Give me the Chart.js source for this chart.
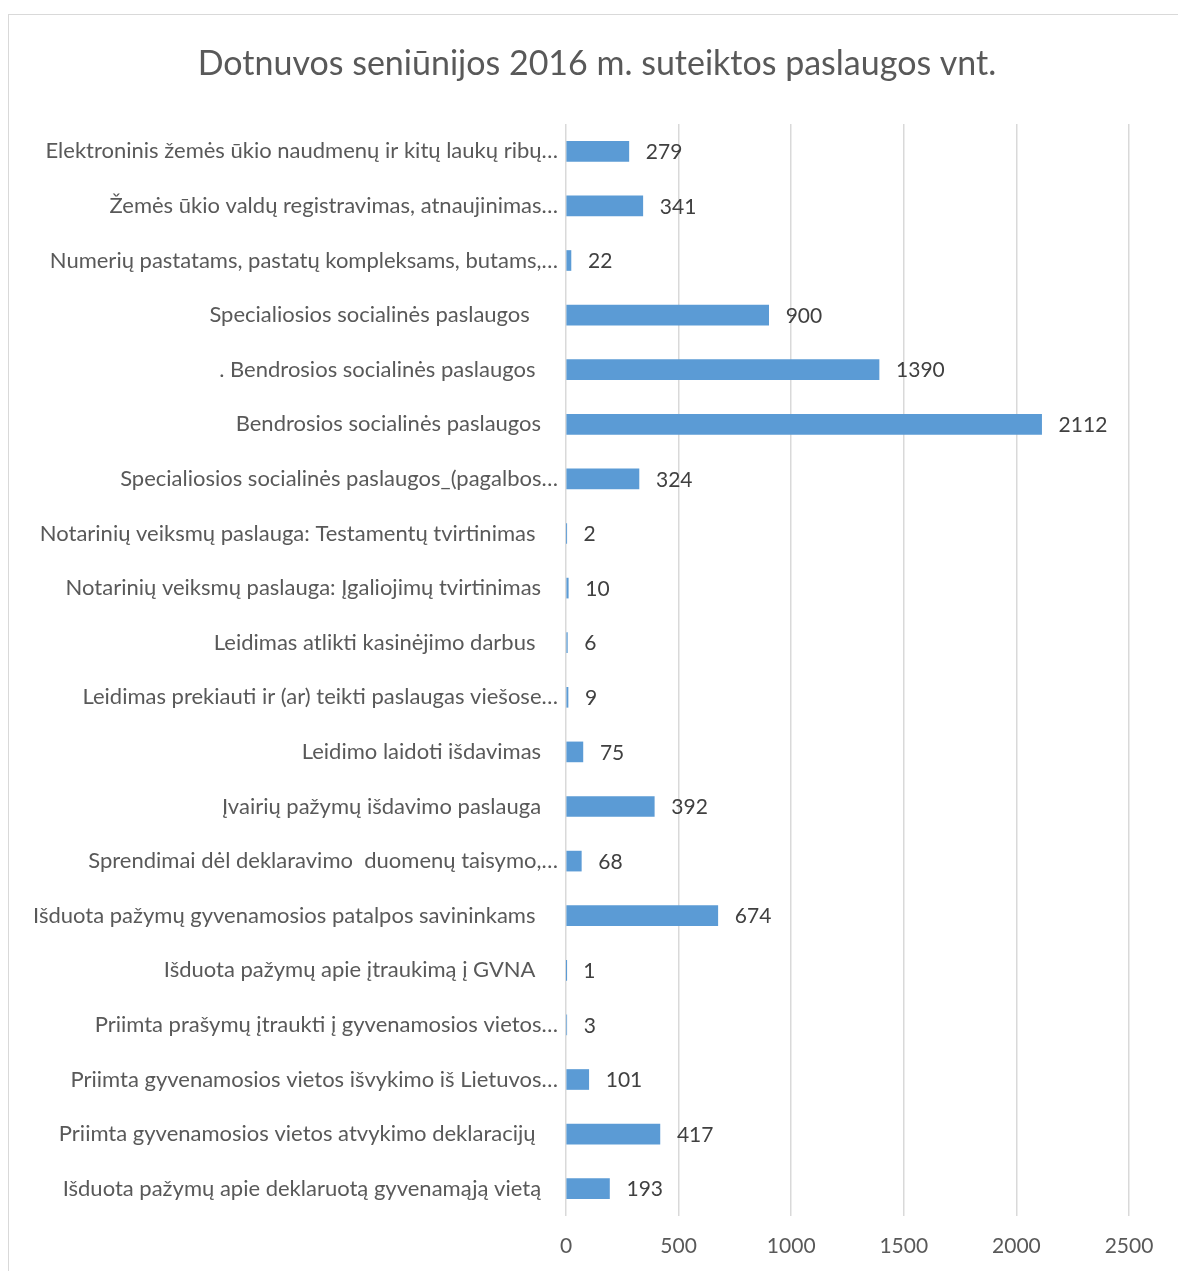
<!DOCTYPE html>
<html>
<head>
<meta charset="utf-8">
<script src="https://cdn.jsdelivr.net/npm/chart.js@4/dist/chart.umd.min.js"></script>
<style>
  html, body { margin: 0; padding: 0; background: #fff; overflow: hidden; }
  #frame { position: absolute; left: 8px; top: 14px; width: 1300px; height: 1400px; border: 1px solid #d9d9d9; }
  #wrap { position: absolute; left: 0; top: 0; width: 1178px; height: 1271px; }
</style>
</head>
<body>
<div id="frame"></div>
<div id="wrap"><canvas id="paslaugosChart" width="1178" height="1271"></canvas></div>
<script>
const title = 'Dotnuvos seniūnijos 2016 m. suteiktos paslaugos vnt.';

const categories = [
    'Elektroninis žemės ūkio naudmenų ir kitų laukų ribų…',
    'Žemės ūkio valdų registravimas, atnaujinimas…',
    'Numerių pastatams, pastatų kompleksams, butams,…',
    'Specialiosios socialinės paslaugos     ',
    '. Bendrosios socialinės paslaugos    ',
    'Bendrosios socialinės paslaugos   ',
    'Specialiosios socialinės paslaugos_(pagalbos…',
    'Notarinių veiksmų paslauga: Testamentų tvirtinimas    ',
    'Notarinių veiksmų paslauga: Įgaliojimų tvirtinimas   ',
    'Leidimas atlikti kasinėjimo darbus    ',
    'Leidimas prekiauti ir (ar) teikti paslaugas viešose…',
    'Leidimo laidoti išdavimas   ',
    'Įvairių pažymų išdavimo paslauga   ',
    'Sprendimai dėl deklaravimo  duomenų taisymo,…',
    'Išduota pažymų gyvenamosios patalpos savininkams    ',
    'Išduota pažymų apie įtraukimą į GVNA    ',
    'Priimta prašymų įtraukti į gyvenamosios vietos…',
    'Priimta gyvenamosios vietos išvykimo iš Lietuvos…',
    'Priimta gyvenamosios vietos atvykimo deklaracijų    ',
    'Išduota pažymų apie deklaruotą gyvenamąją vietą   '
];

const values = [279, 341, 22, 900, 1390, 2112, 324, 2, 10, 6, 9, 75, 392, 68, 674, 1, 3, 101, 417, 193];

const xTicks = [0, 500, 1000, 1500, 2000, 2500];

const fontName = 'Lato, "Liberation Sans", sans-serif';

// value labels at the end of each bar + the title (centred like in Excel, not on the canvas)
const valueLabels = {
    id: 'valueLabels',
    afterDatasetsDraw(chart) {
        const ctx = chart.ctx;
        const meta = chart.getDatasetMeta(0);
        ctx.save();
        ctx.font = '21px ' + fontName;
        ctx.fillStyle = '#404040';
        ctx.textAlign = 'left';
        ctx.textBaseline = 'middle';
        meta.data.forEach(function(bar, i) {
            ctx.fillText(String(values[i]), bar.x + 17, bar.y + 1);
        });

        ctx.font = '34px ' + fontName;
        ctx.fillStyle = '#595959';
        ctx.textAlign = 'center';
        ctx.fillText(title, 597, 64);
        ctx.restore();
    }
};

const ctx = document.getElementById('paslaugosChart').getContext('2d');
const paslaugosChart = new Chart(ctx, {
    type: 'bar',
    data: {
        labels: categories,
        datasets: [{
            data: values,
            backgroundColor: '#5b9bd5',
            borderWidth: 0,
            barThickness: 20
        }]
    },
    options: {
        indexAxis: 'y',
        responsive: false,
        animation: false,
        layout: { padding: { left: 0, right: 49, top: 124, bottom: 0 } },
        plugins: {
            legend: { display: false },
            tooltip: { enabled: false },
            title: { display: false }
        },
        scales: {
            x: {
                min: 0,
                max: 2500,
                afterBuildTicks: function(scale) {
                    scale.ticks = xTicks.map(v => ({ value: v }));
                },
                afterFit: function(scale) { scale.height = 55; },
                grid: { color: '#d9d9d9', lineWidth: 1.5, drawTicks: false },
                border: { display: false },
                ticks: {
                    color: '#595959',
                    font: { family: fontName, size: 21 },
                    padding: 18,
                    callback: function(v) { return String(v); }
                }
            },
            y: {
                afterFit: function(scale) { scale.width = 566; },
                grid: { display: false },
                border: { display: false },
                ticks: {
                    color: '#595959',
                    font: { family: fontName, size: 22 },
                    padding: 0,
                    autoSkip: false
                }
            }
        }
    },
    plugins: [valueLabels]
});
</script>
</body>
</html>
